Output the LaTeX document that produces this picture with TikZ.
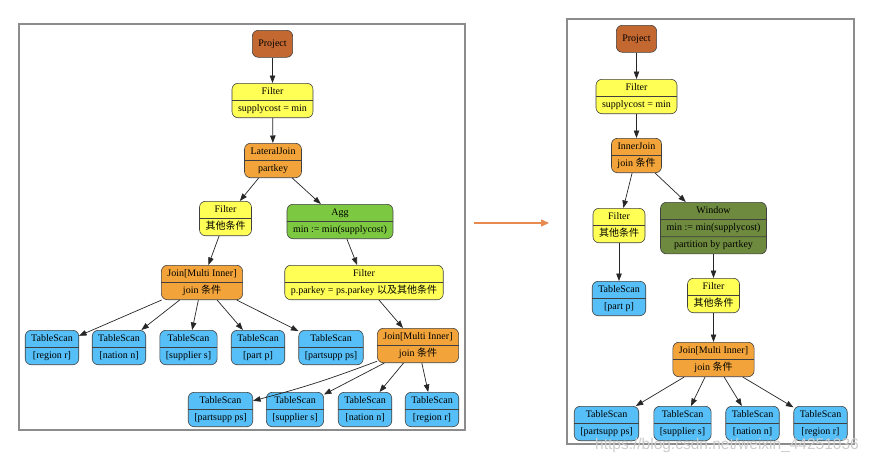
\documentclass[tikz,border=0pt]{standalone}
\usepackage{fontspec}
\setmainfont{Liberation Serif}
\newfontfamily\cjk{Noto Sans CJK SC}
\newfontfamily\wmfont{Liberation Sans}
\usetikzlibrary{shapes.multipart,arrows.meta}
\definecolor{cproj}{RGB}{196,104,50}
\definecolor{cyel}{RGB}{255,255,85}
\definecolor{corange}{RGB}{242,164,58}
\definecolor{cgreen}{RGB}{125,200,65}
\definecolor{colive}{RGB}{110,138,62}
\definecolor{cblue}{RGB}{86,191,247}
\definecolor{carrow}{RGB}{232,137,80}
\begin{document}
\begin{tikzpicture}[x=1pt,y=-1pt,
  base/.style={draw=black!75,line width=0.6pt,rounded corners=6pt,anchor=north,
    font=\fontsize{10}{12}\selectfont,inner xsep=6pt,inner ysep=2.3pt},
  box/.style={base,rectangle split,rectangle split parts=2},
  box3/.style={base,rectangle split,rectangle split parts=3},
  single/.style={base,minimum height=27pt},
  proj/.style={single,fill=cproj},
  yel/.style={box,fill=cyel},
  ora/.style={box,fill=corange},
  grn/.style={box,fill=cgreen},
  olv/.style={box3,fill=colive},
  blu/.style={box,fill=cblue},
  edge/.style={draw=black!85,line width=0.7pt,-{Triangle[length=7.5pt,width=5.5pt]}},
  frame/.style={draw=black!45,line width=1.2pt}
]
\useasboundingbox (0,0) rectangle (873,464);
\fill[white] (0,0) rectangle (873,464);
% frames
\draw[frame] (19,24) rectangle (465,430);
\draw[frame] (567,19) rectangle (854,444);
% ---------- left plan ----------
\node[proj] (lp) at (272.5,30) {Project};
\node[yel] (lf1) at (272.5,83) {\strut Filter\nodepart{two}\strut supplycost = min};
\node[ora] (llj) at (273,143) {\strut LateralJoin\nodepart{two}\strut partkey};
\node[yel] (lf2) at (225.5,201) {\strut Filter\nodepart{two}\strut{\cjk 其他条件}};
\node[grn] (lagg) at (340,204) {\strut Agg\nodepart{two}\strut min := min(supplycost)};
\node[ora] (ljl) at (202,265) {\strut Join[Multi Inner]\nodepart{two}\strut join {\cjk 条件}};
\node[yel] (lf3) at (364,265) {\strut Filter\nodepart{two}\strut p.parkey = ps.parkey {\cjk 以及其他条件}};
\node[blu] (lr1) at (52,330) {\strut TableScan\nodepart{two}\strut [region r]};
\node[blu] (ln1) at (119,330) {\strut TableScan\nodepart{two}\strut [nation n]};
\node[blu] (ls1) at (188.5,330) {\strut TableScan\nodepart{two}\strut [supplier s]};
\node[blu] (lpp1) at (258,330) {\strut TableScan\nodepart{two}\strut [part p]};
\node[blu] (lps1) at (331,330) {\strut TableScan\nodepart{two}\strut [partsupp ps]};
\node[ora] (ljr) at (418,328) {\strut Join[Multi Inner]\nodepart{two}\strut join {\cjk 条件}};
\node[blu] (lps2) at (220.5,392) {\strut TableScan\nodepart{two}\strut [partsupp ps]};
\node[blu] (ls2) at (295,392) {\strut TableScan\nodepart{two}\strut [supplier s]};
\node[blu] (ln2) at (365,392) {\strut TableScan\nodepart{two}\strut [nation n]};
\node[blu] (lr2) at (432,392) {\strut TableScan\nodepart{two}\strut [region r]};
\draw[edge] (lp) -- (lf1);
\draw[edge] (lf1) -- (llj);
\draw[edge] (llj) -- (lf2);
\draw[edge] (llj) -- (lagg);
\draw[edge] (lf2) -- (ljl);
\draw[edge] (lagg) -- (lf3);
\draw[edge] (ljl) -- (lr1);
\draw[edge] (ljl) -- (ln1);
\draw[edge] (ljl) -- (ls1);
\draw[edge] (ljl) -- (lpp1);
\draw[edge] (ljl) -- (lps1);
\draw[edge] (lf3) -- (ljr);
\draw[edge] (ljr) to[bend left=3] (lps2);
\draw[edge] (ljr) -- (ls2);
\draw[edge] (ljr) -- (ln2);
\draw[edge] (ljr) -- (lr2);
% ---------- transform arrow ----------
\coordinate (ta) at (474,223);
\coordinate (tb) at (549,223);
\draw[carrow,line width=1.3pt,-{Triangle[length=8pt,width=7pt]}] (ta) -- (tb);
% ---------- right plan ----------
\node[proj] (rp) at (636.5,25) {Project};
\node[yel] (rf1) at (636.5,79) {\strut Filter\nodepart{two}\strut supplycost = min};
\node[ora] (rij) at (636.5,138) {\strut InnerJoin\nodepart{two}\strut join {\cjk 条件}};
\node[yel] (rf2) at (619,208) {\strut Filter\nodepart{two}\strut{\cjk 其他条件}};
\node[olv] (rw) at (713.5,202) {\strut Window\nodepart{two}\strut min := min(supplycost)\nodepart{three}\strut partition by partkey};
\node[blu] (rpp) at (619,281) {\strut TableScan\nodepart{two}\strut [part p]};
\node[yel] (rf3) at (713.5,278) {\strut Filter\nodepart{two}\strut{\cjk 其他条件}};
\node[ora] (rj) at (713.5,342) {\strut Join[Multi Inner]\nodepart{two}\strut join {\cjk 条件}};
\node[blu] (rps) at (606.5,406) {\strut TableScan\nodepart{two}\strut [partsupp ps]};
\node[blu] (rs) at (682.5,406) {\strut TableScan\nodepart{two}\strut [supplier s]};
\node[blu] (rn) at (752.5,406) {\strut TableScan\nodepart{two}\strut [nation n]};
\node[blu] (rr) at (820.5,406) {\strut TableScan\nodepart{two}\strut [region r]};
\draw[edge] (rp) -- (rf1);
\draw[edge] (rf1) -- (rij);
\draw[edge] (rij) -- (rf2);
\draw[edge] (rij) -- (rw);
\draw[edge] (rf2) -- (rpp);
\draw[edge] (rw) -- (rf3);
\draw[edge] (rf3) -- (rj);
\draw[edge] (rj) -- (rps);
\draw[edge] (rj) -- (rs);
\draw[edge] (rj) -- (rn);
\draw[edge] (rj) -- (rr);
% watermark
\node[text=black!20,font=\wmfont\fontsize{15.5}{17}\selectfont,anchor=center] (wm) at (727,445) {https://blog.csdn.net/weixin\_44251036};
\end{tikzpicture}
\end{document}
